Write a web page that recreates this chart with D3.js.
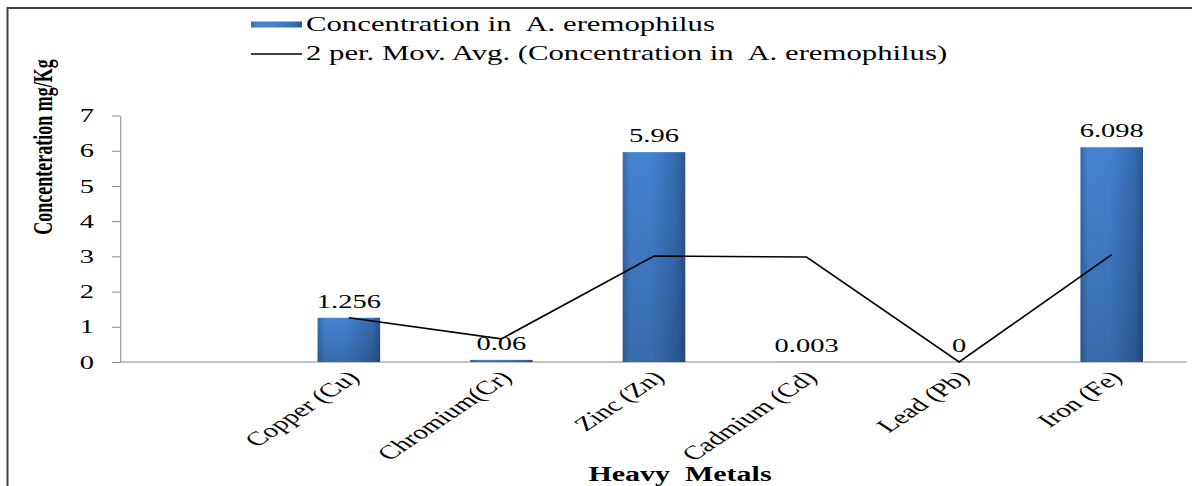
<!DOCTYPE html>
<html>
<head>
<meta charset="utf-8">
<script src="https://cdn.jsdelivr.net/npm/d3@7"></script>
<style>
  html, body { margin: 0; padding: 0; background: #fff; }
  svg { display: block; }
  svg text { font-family: "Liberation Serif", "Tinos", "Times New Roman", "DejaVu Serif", serif !important; fill: #000; }
</style>
</head>
<body>
<div id="chart"></div>
<script>
const categories = ["", "Copper (Cu)", "Chromium(Cr)", "Zinc (Zn)", "Cadmium (Cd)", "Lead (Pb)", "Iron (Fe)"];
const concentration = [null, 1.256, 0.06, 5.96, 0.003, 0, 6.098];
const movAvg = [null, 1.256, 0.658, 3.01, 2.98, 0.0015, 3.049];
const yTicks = [0, 1, 2, 3, 4, 5, 6, 7];

const width = 1192,
    height = 486,
    stretch = 1.5; // the source picture is stretched sideways
const vw = width / stretch;

const svg = d3
    .select("#chart")
    .append("svg")
    .attr("width", width)
    .attr("height", height)
    .attr("viewBox", [0, 0, vw, height])
    .attr("preserveAspectRatio", "none");

// gradient for the bevelled bars
const defs = svg.append("defs");
const grad = defs.append("linearGradient").attr("id", "barGrad").attr("x1", 0).attr("x2", 1).attr("y1", 0).attr("y2", 0);
grad.append("stop").attr("offset", "0%").attr("stop-color", "#3568a8");
grad.append("stop").attr("offset", "12%").attr("stop-color", "#4584d0");
grad.append("stop").attr("offset", "45%").attr("stop-color", "#4283d2");
grad.append("stop").attr("offset", "88%").attr("stop-color", "#3569ae");
grad.append("stop").attr("offset", "100%").attr("stop-color", "#2a5590");
const gradV = defs.append("linearGradient").attr("id", "barShade").attr("x1", 0).attr("x2", 0).attr("y1", 0).attr("y2", 1);
gradV.append("stop").attr("offset", "0%").attr("stop-color", "#000").attr("stop-opacity", 0);
gradV.append("stop").attr("offset", "100%").attr("stop-color", "#000").attr("stop-opacity", 0.18);

// outer frame
svg.append("rect")
    .attr("x", 5)
    .attr("y", 8)
    .attr("width", vw + 20)
    .attr("height", height + 20)
    .attr("fill", "none")
    .attr("stroke", "#404040")
    .attr("stroke-width", 2)
    .attr("vector-effect", "non-scaling-stroke");

const x = d3
    .scaleBand()
    .domain(categories)
    .range([80, 792])
    .paddingInner(0.59)
    .paddingOuter(0.295);

const y = d3.scaleLinear().domain([0, 7]).range([362, 115.5]);

// y axis
const yAxis = svg
    .append("g")
    .attr("transform", "translate(80,0)")
    .call(d3.axisLeft(y).tickValues(yTicks).tickFormat(d3.format("d")).tickSize(5.3).tickSizeOuter(0).tickPadding(12));
yAxis.attr("font-family", null);
yAxis.selectAll("path, line").attr("stroke", "#868686").attr("vector-effect", "non-scaling-stroke");
yAxis.selectAll("text").attr("font-size", 19).attr("fill", "#000");

// x axis line
svg.append("line")
    .attr("x1", x.range()[0])
    .attr("x2", x.range()[1] - 0.7)
    .attr("y1", y(0))
    .attr("y2", y(0))
    .attr("stroke", "#868686")
    .attr("vector-effect", "non-scaling-stroke");

const bars = categories
    .map((c, i) => ({ c, v: concentration[i] }))
    .filter((d) => d.v !== null);

// bars
svg.append("g")
    .selectAll("rect")
    .data(bars)
    .join("rect")
    .attr("x", (d) => x(d.c))
    .attr("y", (d) => y(d.v))
    .attr("width", x.bandwidth())
    .attr("height", (d) => y(0) - y(d.v))
    .attr("fill", "url(#barGrad)");
svg.append("g")
    .selectAll("rect")
    .data(bars)
    .join("rect")
    .attr("x", (d) => x(d.c))
    .attr("y", (d) => y(d.v))
    .attr("width", x.bandwidth())
    .attr("height", (d) => y(0) - y(d.v))
    .attr("fill", "url(#barShade)");

// moving average line
const line = d3
    .line()
    .defined((d) => d.v !== null)
    .x((d) => x(d.c) + x.bandwidth() / 2)
    .y((d) => y(d.v));
svg.append("path")
    .datum(categories.map((c, i) => ({ c, v: movAvg[i] })))
    .attr("d", line)
    .attr("fill", "none")
    .attr("stroke", "#000")
    .attr("stroke-width", 1.6)
    .attr("vector-effect", "non-scaling-stroke");

// data labels
svg.append("g")
    .selectAll("text")
    .data(bars)
    .join("text")
    .attr("x", (d) => x(d.c) + x.bandwidth() / 2)
    .attr("y", (d) => y(d.v) - 10)
    .attr("text-anchor", "middle")
    .attr("font-size", 19)
    .text((d) => String(d.v));

// category labels
svg.append("g")
    .selectAll("text")
    .data(categories.filter((c) => c !== ""))
    .join("text")
    .attr("transform", (c) => `translate(${x(c) + x.bandwidth() / 2 + 3},${y(0) + 12}) rotate(-45)`)
    .attr("text-anchor", "end")
    .attr("dy", "0.35em")
    .attr("font-size", 19.5)
    .text((c) => c);

// axis titles
svg.append("text")
    .attr("transform", `translate(${43 / stretch},147) rotate(-90)`)
    .attr("text-anchor", "middle")
    .attr("dy", "0.35em")
    .attr("font-size", 18)
    .attr("font-weight", "bold")
    .text("Concenteration mg/Kg");

svg.append("text")
    .attr("x", 680 / stretch)
    .attr("y", 481)
    .attr("text-anchor", "middle")
    .attr("font-size", 20)
    .attr("font-weight", "bold")
    .style("white-space", "pre")
    .text("Heavy  Metals");

// legend
const legend = svg.append("g");
legend.append("rect")
    .attr("x", 251 / stretch)
    .attr("y", 21.5)
    .attr("width", 51 / stretch)
    .attr("height", 6)
    .attr("fill", "url(#barGrad)");
legend.append("text")
    .attr("x", 306 / stretch)
    .attr("y", 31)
    .attr("font-size", 20.5)
    .style("white-space", "pre")
    .text("Concentration in  A. eremophilus");
legend.append("line")
    .attr("x1", 251 / stretch)
    .attr("x2", 302 / stretch)
    .attr("y1", 54)
    .attr("y2", 54)
    .attr("stroke", "#000")
    .attr("stroke-width", 1.6)
    .attr("vector-effect", "non-scaling-stroke");
legend.append("text")
    .attr("x", 306 / stretch)
    .attr("y", 60)
    .attr("font-size", 20.5)
    .style("white-space", "pre")
    .text("2 per. Mov. Avg. (Concentration in  A. eremophilus)");
</script>
</body>
</html>
